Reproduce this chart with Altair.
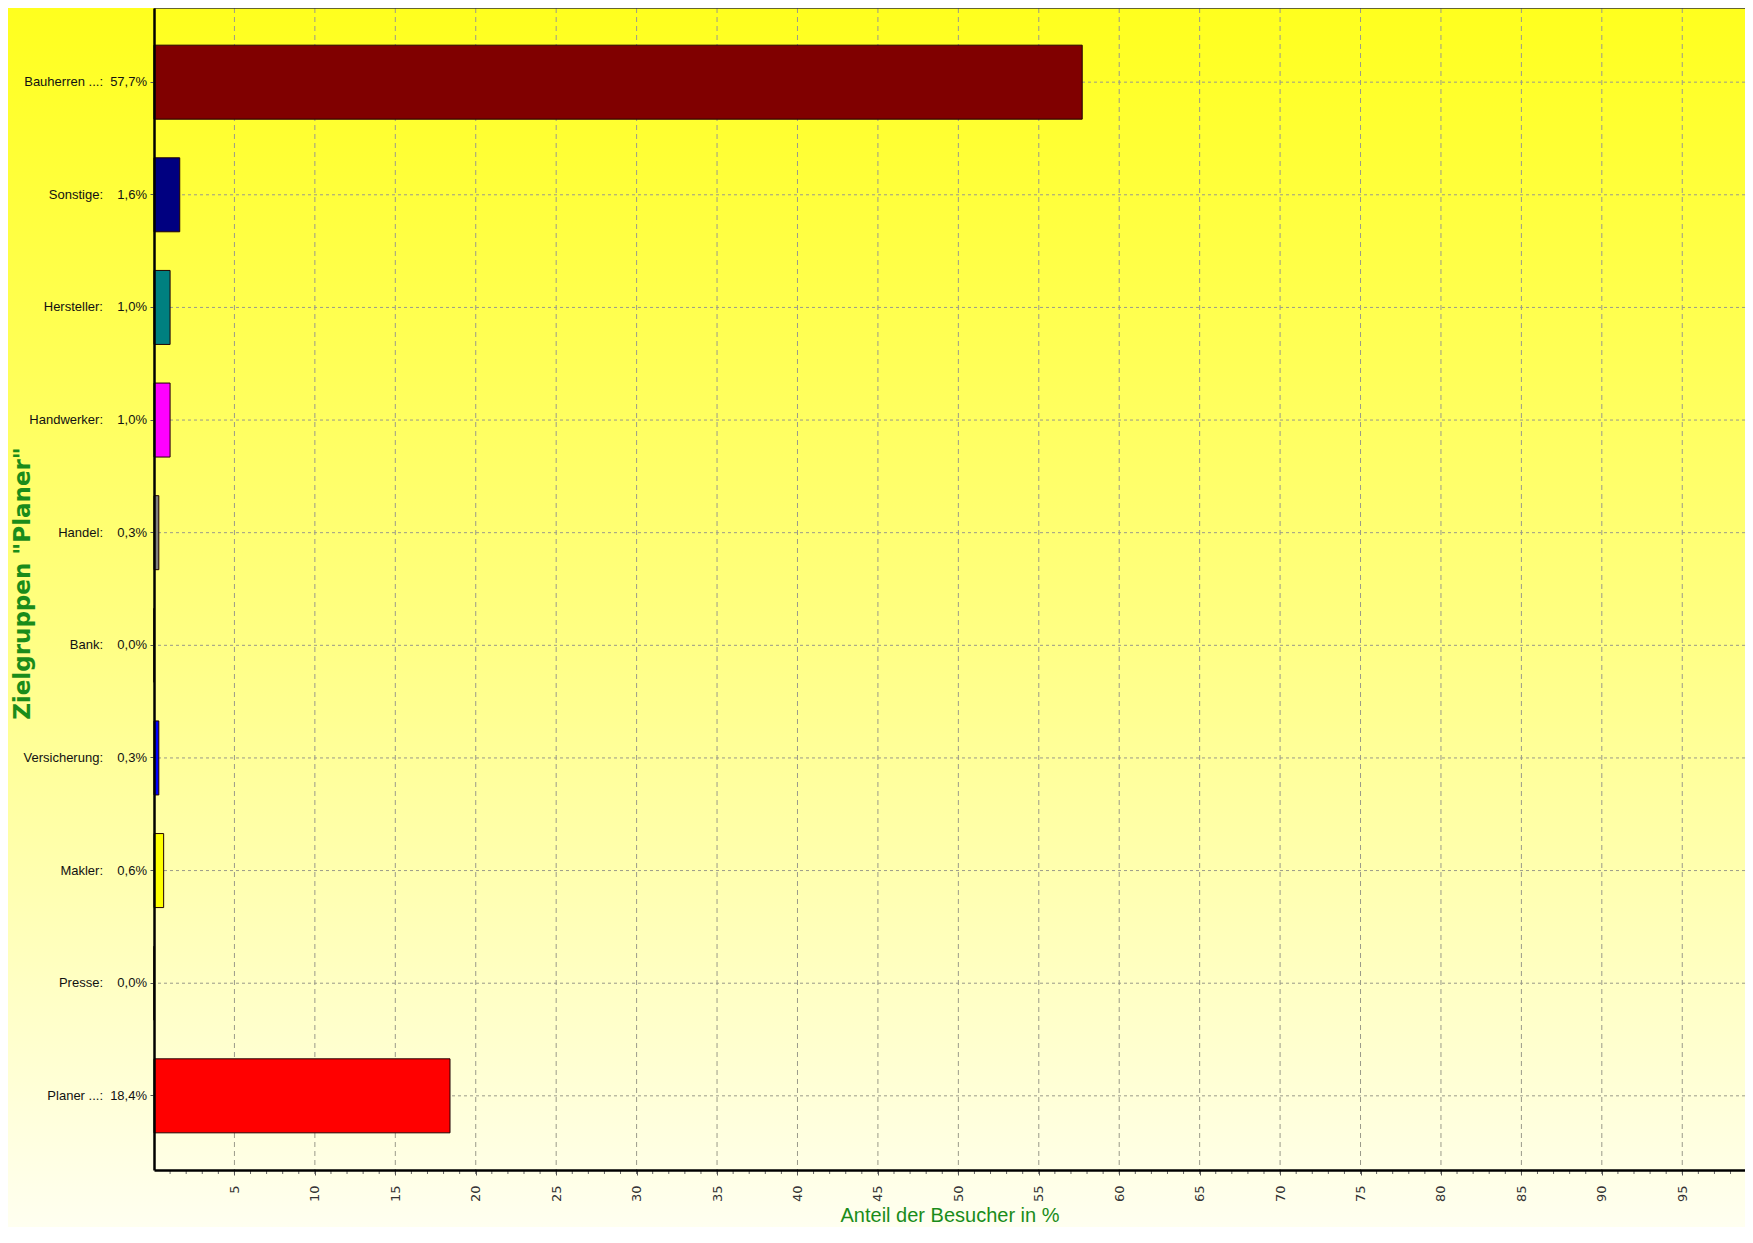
import altair as alt
import pandas as pd

# ---- data ----
categories = ["Bauherren ...:", "Sonstige:", "Hersteller:", "Handwerker:", "Handel:",
              "Bank:", "Versicherung:", "Makler:", "Presse:", "Planer ...:"]
values = [57.7, 1.6, 1.0, 1.0, 0.3, 0.0, 0.3, 0.6, 0.0, 18.4]
pct_labels = ["57,7%", "1,6%", "1,0%", "1,0%", "0,3%", "0,0%", "0,3%", "0,6%", "0,0%", "18,4%"]
bar_colors = ["#800000", "#000080", "#008080", "#ff00ff", "#808080",
              "#c0c0c0", "#0000ff", "#ffff00", "#00c000", "#ff0000"]
x_tick_values = [5, 10, 15, 20, 25, 30, 35, 40, 45, 50, 55, 60, 65, 70, 75, 80, 85, 90, 95]
minor_tick_values = list(range(1, 99))

x_title = "Anteil der Besucher in %"
y_title = 'Zielgruppen "Planer"'

# ---- layout ----
W, H = 1591, 1162
PAD_L, PAD_B = 146, 57
GREEN = "#1a8c1a"
SANS = "Liberation Sans, Arial, sans-serif"

df = pd.DataFrame({"cat": categories, "value": values, "pct": pct_labels})

yscale = alt.Scale(domain=categories, paddingInner=0.343, paddingOuter=0.33)
xscale = alt.Scale(domain=[0, 98.9], nice=False, zero=True)

xaxis = alt.Axis(values=x_tick_values, labelAngle=270, grid=False, zindex=2,
                 domainColor="black", domainWidth=2.5, tickColor="#555555", tickSize=5,
                 labelFont="DejaVu Sans", labelFontSize=13, labelColor="#333333", labelPadding=10,
                 title=x_title, titleColor=GREEN, titleFont=SANS, titleFontSize=20,
                 titleFontWeight="normal", titleY=51, titleBaseline="alphabetic")
yaxis = alt.Axis(labels=False, grid=False, zindex=2,
                 domainColor="black", domainWidth=2.5, tickColor="#555555", tickSize=4,
                 title=y_title, titleColor=GREEN, titleFont="DejaVu Sans", titleFontSize=23,
                 titleFontWeight="bold", titleAngle=270, titleX=-132, titleY=H / 2 - 6,
                 titleAlign="center", titleBaseline="middle")

one = pd.DataFrame({"a": [0]})

bg = alt.Chart(one).mark_rect(
    clip=False,
    fill=alt.LinearGradient(
        gradient="linear",
        stops=[alt.GradientStop(color="#ffff1e", offset=0),
               alt.GradientStop(color="#ffff80", offset=0.5),
               alt.GradientStop(color="#fffff0", offset=1)],
        x1=0, x2=0, y1=0, y2=1),
).encode(x=alt.value(-PAD_L), x2=alt.value(W), y=alt.value(0), y2=alt.value(H + PAD_B))

vgrid = alt.Chart(pd.DataFrame({"t": x_tick_values})).mark_rule(
    color="#9a9a8a", strokeDash=[5, 4], strokeWidth=1
).encode(x=alt.X("t:Q", scale=xscale, axis=xaxis))

hgrid = alt.Chart(df).mark_rule(
    color="#9a9a8a", strokeDash=[3, 3], strokeWidth=1
).encode(y=alt.Y("cat:N", scale=yscale, axis=yaxis, sort=categories))

minor = alt.Chart(pd.DataFrame({"m": minor_tick_values})).mark_rule(
    color="#666666", strokeWidth=1
).encode(x=alt.X("m:Q", scale=xscale, axis=xaxis), y=alt.value(H), y2=alt.value(H + 4))

bars = alt.Chart(df).mark_bar(stroke="#200000", strokeWidth=1).encode(
    x=alt.X("value:Q", scale=xscale, axis=xaxis),
    y=alt.Y("cat:N", scale=yscale, axis=yaxis, sort=categories),
    color=alt.Color("cat:N", scale=alt.Scale(domain=categories, range=bar_colors), legend=None),
)

names = alt.Chart(df).mark_text(
    align="right", baseline="middle", font=SANS, fontSize=13, color="#111111"
).encode(y=alt.Y("cat:N", scale=yscale, axis=yaxis, sort=categories),
         x=alt.value(-51), text="cat:N")

pcts = alt.Chart(df).mark_text(
    align="right", baseline="middle", font=SANS, fontSize=13, color="#111111"
).encode(y=alt.Y("cat:N", scale=yscale, axis=yaxis, sort=categories),
         x=alt.value(-7), text="pct:N")

top_rule = alt.Chart(one).mark_rule(color="#333333", strokeWidth=1.5).encode(
    x=alt.value(0), x2=alt.value(W), y=alt.value(0))

chart = alt.layer(bg, vgrid, hgrid, bars, minor, names, pcts, top_rule).properties(
    width=W, height=H,
    padding={"left": PAD_L, "top": 0, "right": 0, "bottom": PAD_B},
    autosize=alt.AutoSizeParams(type="none"),
).configure(background="#ffffaa").configure_view(stroke=None)

chart.save("out.html", embed_options={"renderer": "svg", "actions": False})
